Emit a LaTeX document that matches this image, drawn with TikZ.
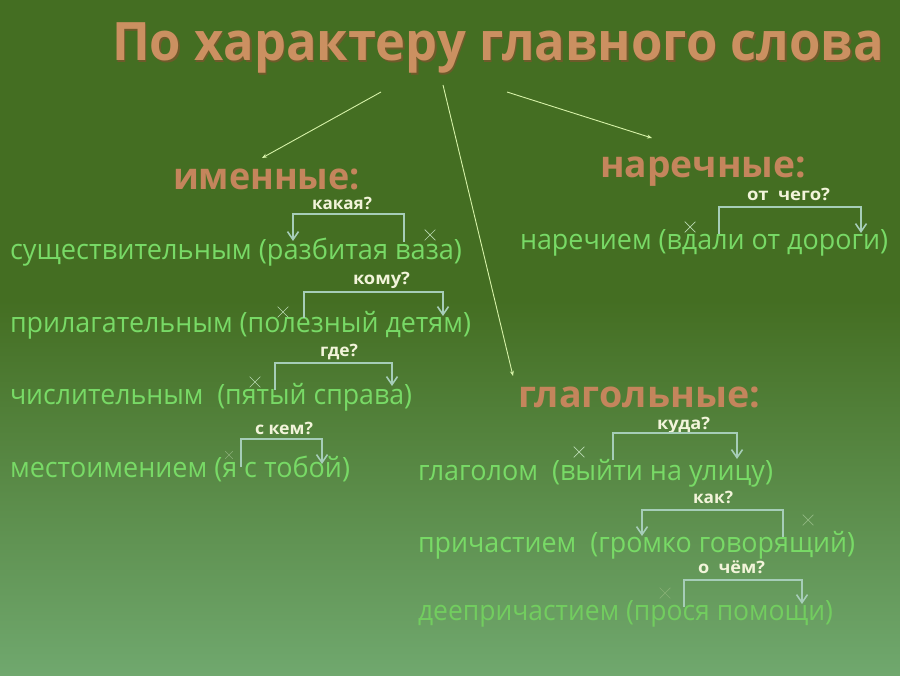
\documentclass[tikz,border=0pt]{standalone}
\usepackage{fontspec}
\setmainfont{Open Sans}
\usepackage{graphicx}
\usetikzlibrary{arrows.meta,shapes.misc}
\definecolor{bgtop}{HTML}{446E22}
\definecolor{bgmid}{HTML}{538539}
\definecolor{bgbot}{HTML}{70A86E}
\definecolor{titlec}{HTML}{CB9061}
\definecolor{titlesh}{HTML}{6E5A2A}
\definecolor{headc}{HTML}{C4855C}
\definecolor{itemc}{HTML}{78DA66}
\definecolor{qc}{HTML}{F2F4DA}
\definecolor{brc}{HTML}{A6CDB8}
\definecolor{arrc}{HTML}{D6F2A8}
\definecolor{crossc}{HTML}{B8D8B0}
\newlength\fitlen
\newcommand\fitw[2]{\settowidth\fitlen{#2}\pgfmathsetmacro\fitr{#1/\fitlen}\scalebox{\fitr}[1]{#2}}
\tikzset{
  txt/.style={anchor=base west, inner sep=0pt, outer sep=0pt},
  titlestyle/.style={txt, font=\fontsize{53}{53}\selectfont\bfseries, text=titlec},
  headstyle/.style={txt, font=\fontsize{37}{37}\selectfont\bfseries, text=headc},
  itemstyle/.style={txt, font=\fontsize{28}{28}\selectfont, text=itemc},
  qstyle/.style={txt, font=\fontsize{17}{17}\selectfont\bfseries, text=qc},
  brk/.style={draw=brc, line width=1.8pt},
  brkarrow/.style={brk, -{Straight Barb[length=8pt,width=11pt,line width=1.6pt]}},
  headarrow/.style={draw=arrc, line width=0.9pt, -{Stealth[length=5pt,width=4pt]}},
  crossmark/.style={cross out, draw=crossc, minimum size=10pt, inner sep=0pt, line width=0.7pt},
}
\begin{document}
\begin{tikzpicture}[x=1pt,y=-1pt]
\useasboundingbox (0,0) rectangle (900,676);
\fill[bgtop] (0,0) rectangle (900,301);
\shade[top color=bgtop, middle color=bgmid, bottom color=bgbot] (0,300) rectangle (900,676);

% title
\node[titlestyle, text=titlesh] at (113.5,62.5) {\fitw{772}{По характеру главного слова}};
\node[titlestyle] (title) at (112,61) {\fitw{772}{По характеру главного слова}};

% headings
\node[headstyle] (imen) at (173,190) {\fitw{187}{именные:}};
\node[headstyle] (narech) at (600,178) {\fitw{206}{наречные:}};
\node[headstyle] (glag) at (518,407) {\fitw{242}{глагольные:}};

% heading arrows
\coordinate (a1s) at (381,92);  \coordinate (a1e) at (262,158);
\coordinate (a2s) at (443,85);  \coordinate (a2e) at (513,376);
\coordinate (a3s) at (507,92);  \coordinate (a3e) at (652,138);
\draw[headarrow] (a1s) -- (a1e);
\draw[headarrow] (a2s) -- (a2e);
\draw[headarrow] (a3s) -- (a3e);

% items
\node[itemstyle] (i1) at (10,260) {\fitw{452}{существительным (разбитая ваза)}};
\node[itemstyle] (i2) at (10,333) {\fitw{461}{прилагательным (полезный детям)}};
\node[itemstyle] (i3) at (10,405) {\fitw{402}{числительным~ (пятый справа)}};
\node[itemstyle] (i4) at (10,477) {\fitw{340}{местоимением (я с тобой)}};
\node[itemstyle] (i5) at (520,250) {\fitw{368}{наречием (вдали от дороги)}};
\node[itemstyle] (i6) at (418,480) {\fitw{355}{глаголом~ (выйти на улицу)}};
\node[itemstyle] (i7) at (418,552) {\fitw{437}{причастием~ (громко говорящий)}};
\node[itemstyle, text=itemc!85!bgmid] (i8) at (418,620) {\fitw{415}{деепричастием (прося помощи)}};

% question labels
\node[qstyle] (q1) at (312,210) {\fitw{60}{какая?}};
\node[qstyle] (q2) at (353,285) {\fitw{57}{кому?}};
\node[qstyle] (q3) at (320,357) {\fitw{38}{где?}};
\node[qstyle] (q4) at (255,434) {\fitw{58}{с кем?}};
\node[qstyle] (q5) at (747,201) {\fitw{83}{от~ чего?}};
\node[qstyle] (q6) at (657,429) {\fitw{53}{куда?}};
\node[qstyle] (q7) at (693,503) {\fitw{40}{как?}};
\node[qstyle] (q8) at (698,573) {\fitw{67}{о~ чём?}};

% brackets: (left bottom) and (right bottom) ends
\coordinate (b1l) at (293,241); \coordinate (b1r) at (404,242);
\draw[brkarrow] (b1r) |- (404,214) -| (b1l);
\coordinate (b2l) at (304,318); \coordinate (b2r) at (443,316);
\draw[brkarrow] (b2l) |- (443,292) -| (b2r);
\coordinate (b3l) at (275,390); \coordinate (b3r) at (392,386);
\draw[brkarrow] (b3l) |- (392,363) -| (b3r);
\coordinate (b4l) at (241,467); \coordinate (b4r) at (322,464);
\draw[brkarrow] (b4l) |- (322,439) -| (b4r);
\coordinate (b5l) at (719,234); \coordinate (b5r) at (861,233);
\draw[brkarrow] (b5l) |- (861,207) -| (b5r);
\coordinate (b6l) at (613,460); \coordinate (b6r) at (737,459);
\draw[brkarrow] (b6l) |- (737,433) -| (b6r);
\coordinate (b7l) at (642,536); \coordinate (b7r) at (783,537);
\draw[brkarrow] (b7r) |- (783,510) -| (b7l);
\coordinate (b8l) at (684,607); \coordinate (b8r) at (802,604);
\draw[brkarrow] (b8l) |- (802,580) -| (b8r);

% crosses
\node[crossmark] (x1) at (430,235) {};
\node[crossmark] (x2) at (283,312) {};
\node[crossmark] (x3) at (255,382) {};
\node[crossmark, minimum size=7pt, draw=crossc!60!bgtop] (x4) at (229,455) {};
\node[crossmark] (x5) at (690,227) {};
\node[crossmark] (x6) at (579,452) {};
\node[crossmark, draw=crossc!60!bgmid] (x7) at (808,520) {};
\node[crossmark, draw=crossc!50!bgmid] (x8) at (665,593) {};
\end{tikzpicture}
\end{document}
